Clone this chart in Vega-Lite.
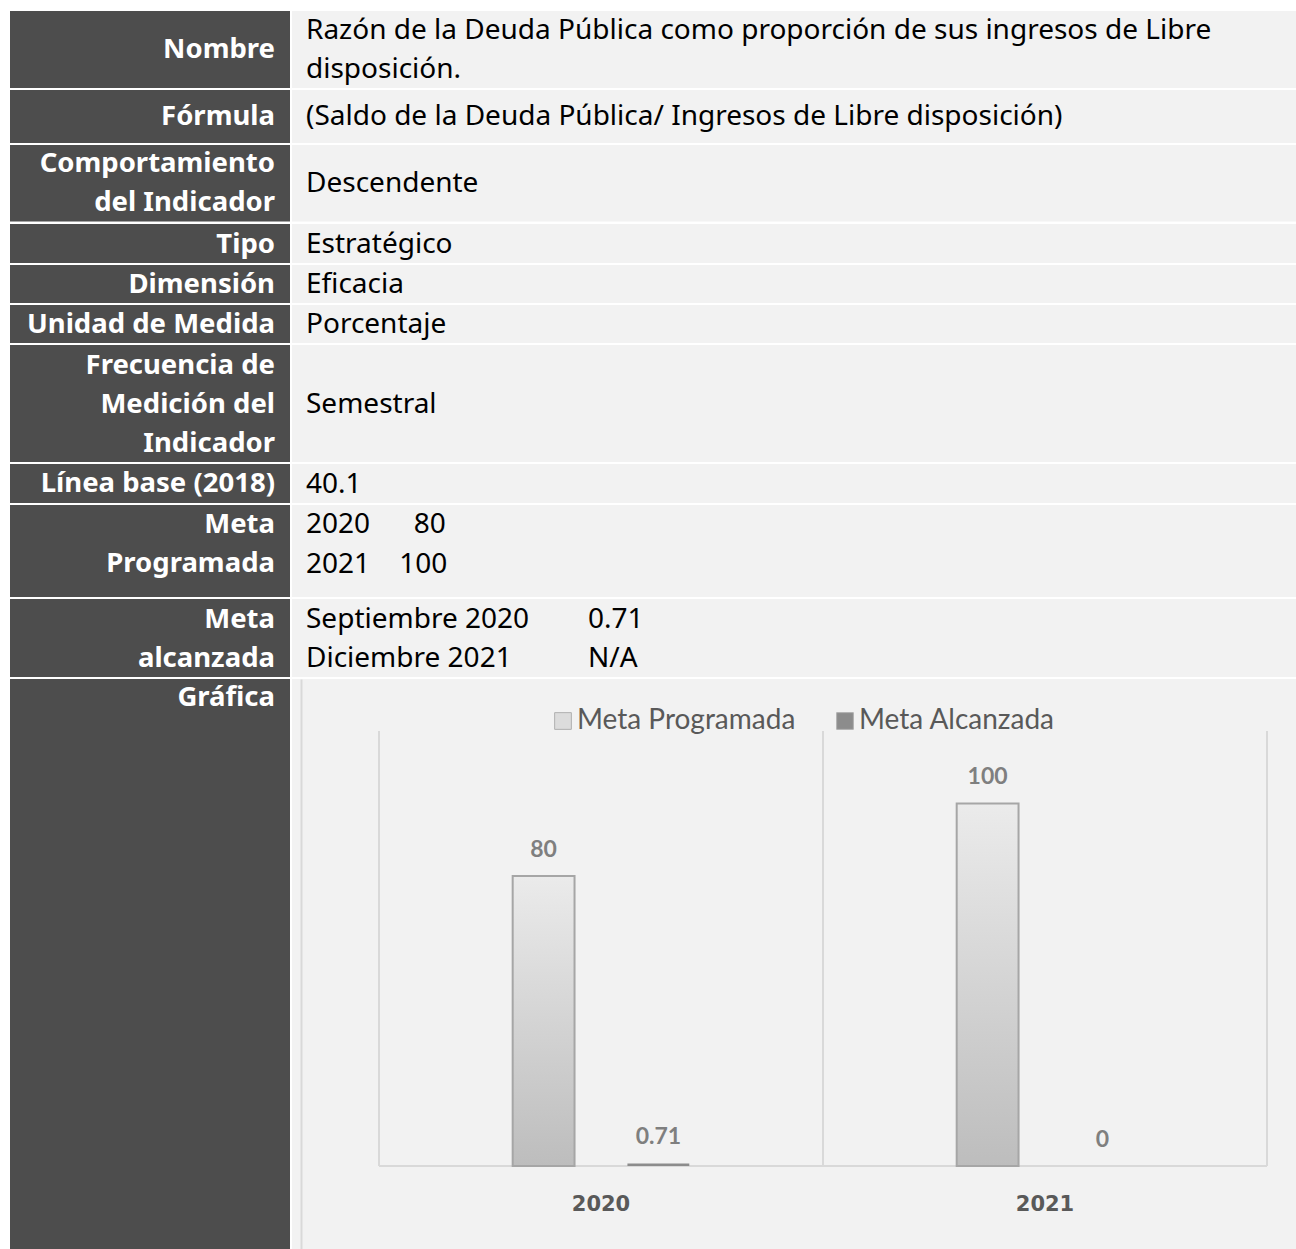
{
  "$schema": "https://vega.github.io/schema/vega-lite/v6.json",
  "background": "white",
  "padding": {"left": 10, "top": 11, "right": 0, "bottom": 0},
  "bounds": "flush",
  "spacing": 2,
  "config": {"view": {"stroke": null}},
  "datasets": {
    "celdas": [
      {"fila": "Nombre", "desde": 0, "hasta": 1.974},
      {"fila": "Fórmula", "desde": 2.026, "hasta": 3.385},
      {"fila": "Comportamiento", "desde": 3.436, "hasta": 5.397},
      {"fila": "Tipo", "desde": 5.462, "hasta": 6.462},
      {"fila": "Dimensión", "desde": 6.513, "hasta": 7.487},
      {"fila": "Unidad", "desde": 7.538, "hasta": 8.513},
      {"fila": "Frecuencia", "desde": 8.564, "hasta": 11.564},
      {"fila": "Línea base", "desde": 11.615, "hasta": 12.615},
      {"fila": "Meta Programada", "desde": 12.667, "hasta": 15.026},
      {"fila": "Meta alcanzada", "desde": 15.077, "hasta": 17.077},
      {"fila": "Gráfica", "desde": 17.128, "hasta": 31.744}
    ],
    "etiquetas": [
      {"texto": "Nombre", "renglon": 1.0},
      {"texto": "Fórmula", "renglon": 2.718},
      {"texto": "Comportamiento", "renglon": 3.923},
      {"texto": "del Indicador", "renglon": 4.923},
      {"texto": "Tipo", "renglon": 6.0},
      {"texto": "Dimensión", "renglon": 7.026},
      {"texto": "Unidad de Medida", "renglon": 8.051},
      {"texto": "Frecuencia de", "renglon": 9.103},
      {"texto": "Medición del", "renglon": 10.103},
      {"texto": "Indicador", "renglon": 11.103},
      {"texto": "Línea base (2018)", "renglon": 12.128},
      {"texto": "Meta", "renglon": 13.18},
      {"texto": "Programada", "renglon": 14.18},
      {"texto": "Meta", "renglon": 15.615},
      {"texto": "alcanzada", "renglon": 16.615},
      {"texto": "Gráfica", "renglon": 17.615}
    ],
    "valores": [
      {"texto": "Razón de la Deuda Pública como proporción de sus ingresos de Libre", "renglon": 0.513, "tab": "a"},
      {"texto": "disposición.", "renglon": 1.513, "tab": "a"},
      {"texto": "(Saldo de la Deuda Pública/ Ingresos de Libre disposición)", "renglon": 2.718, "tab": "a"},
      {"texto": "Descendente", "renglon": 4.436, "tab": "a"},
      {"texto": "Estratégico", "renglon": 6.0, "tab": "a"},
      {"texto": "Eficacia", "renglon": 7.026, "tab": "a"},
      {"texto": "Porcentaje", "renglon": 8.051, "tab": "a"},
      {"texto": "Semestral", "renglon": 10.103, "tab": "a"},
      {"texto": "40.1", "renglon": 12.15, "tab": "a"},
      {"texto": "2020\u00a0\u00a0\u00a0\u00a0\u00a0\u00a080", "renglon": 13.18, "tab": "a"},
      {"texto": "2021\u00a0\u00a0\u00a0\u00a0100", "renglon": 14.205, "tab": "a"},
      {"texto": "Septiembre 2020", "renglon": 15.615, "tab": "a"},
      {"texto": "0.71", "renglon": 15.615, "tab": "b"},
      {"texto": "Diciembre 2021", "renglon": 16.615, "tab": "a"},
      {"texto": "N/A", "renglon": 16.615, "tab": "b"}
    ],
    "grafica": [
      {"anio": "2020", "serie": "Meta Programada", "valor": 80},
      {"anio": "2020", "serie": "Meta Alcanzada", "valor": 0.71},
      {"anio": "2021", "serie": "Meta Programada", "valor": 100},
      {"anio": "2021", "serie": "Meta Alcanzada", "valor": 0}
    ],
    "anios": [{"anio": "2020"}, {"anio": "2021"}],
    "ultimo": [{"anio": "2021"}]
  },
  "hconcat": [
    {
      "width": 280,
      "height": 1238,
      "layer": [
        {
          "data": {"name": "celdas"},
          "mark": {"type": "rect", "fill": "#4d4d4d"},
          "encoding": {
            "y": {"field": "desde", "type": "quantitative", "scale": {"domain": [0, 31.744], "reverse": true, "nice": false, "zero": false}, "axis": null},
            "y2": {"field": "hasta"}
          }
        },
        {
          "data": {"name": "etiquetas"},
          "mark": {"type": "text", "align": "right", "baseline": "middle", "dx": -15, "fill": "white", "font": "Noto Sans", "fontSize": 27.5, "fontWeight": "bold"},
          "encoding": {
            "x": {"value": "width"},
            "y": {"field": "renglon", "type": "quantitative", "scale": {"domain": [0, 31.744], "reverse": true, "nice": false, "zero": false}, "axis": null},
            "text": {"field": "texto"}
          }
        }
      ]
    },
    {
      "bounds": "flush",
      "spacing": 2,
      "vconcat": [
        {
          "width": 1004,
          "height": 666,
          "layer": [
            {
              "data": {"name": "celdas"},
              "transform": [{"filter": "datum.fila !== 'Gráfica'"}],
              "mark": {"type": "rect", "fill": "#f2f2f2"},
              "encoding": {
                "y": {"field": "desde", "type": "quantitative", "scale": {"domain": [0, 17.077], "reverse": true, "nice": false, "zero": false}, "axis": null},
                "y2": {"field": "hasta"}
              }
            },
            {
              "data": {"name": "valores"},
              "mark": {"type": "text", "align": "left", "baseline": "middle", "fill": "#000000", "font": "Noto Sans", "fontSize": 28},
              "encoding": {
                "x": {"field": "tab", "type": "nominal", "scale": {"domain": ["a", "b"], "range": [14, 296], "padding": 0}, "axis": null},
                "y": {"field": "renglon", "type": "quantitative", "scale": {"domain": [0, 17.077], "reverse": true, "nice": false, "zero": false}, "axis": null},
                "text": {"field": "texto"}
              }
            }
          ]
        },
        {
          "width": 1004,
          "height": 570,
          "view": {"fill": "#f2f2f2", "stroke": null},
          "encoding": {
            "x": {
              "field": "anio", "type": "nominal",
              "scale": {"domain": ["2020", "2021"], "paddingInner": 0, "paddingOuter": 0.1306, "align": 0.75},
              "axis": {"orient": "bottom", "offset": -83, "domain": false, "ticks": false, "grid": false, "labelPadding": 27, "labelAngle": 0, "labelFont": "DejaVu Sans", "labelFontSize": 21, "labelFontWeight": "bold", "labelColor": "#595959", "title": null}
            }
          },
          "layer": [
            {
              "data": {"name": "anios"},
              "mark": {"type": "rule", "color": "#d9d9d9", "strokeWidth": 2},
              "encoding": {
                "x": {"field": "anio", "type": "nominal", "bandPosition": 0},
                "y": {
                  "datum": 0, "type": "quantitative",
                  "scale": {"domain": [-22.9, 134.34], "nice": false, "zero": false},
                  "axis": {"orient": "left", "offset": -9, "domainColor": "#d9d9d9", "domainWidth": 2, "ticks": false, "labels": false, "grid": false, "title": null}
                },
                "y2": {"datum": 120}
              }
            },
            {
              "data": {"name": "ultimo"},
              "mark": {"type": "rule", "color": "#d9d9d9", "strokeWidth": 2},
              "encoding": {
                "x": {"field": "anio", "type": "nominal", "bandPosition": 1},
                "y": {"datum": 0, "type": "quantitative"},
                "y2": {"datum": 120}
              }
            },
            {
              "data": {"name": "anios"},
              "mark": {"type": "rect", "color": "#d9d9d9"},
              "encoding": {
                "y": {"datum": 0.28, "type": "quantitative"},
                "y2": {"datum": -0.28}
              }
            },
            {
              "data": {"name": "grafica"},
              "mark": {"type": "bar", "strokeWidth": 2},
              "encoding": {
                "xOffset": {"field": "serie", "type": "nominal", "scale": {"domain": ["_izq", "Meta Programada", "Meta Alcanzada", "_der"], "paddingInner": 0.461, "paddingOuter": 0.165}},
                "y": {"field": "valor", "type": "quantitative"},
                "y2": {"datum": 0},
                "fill": {
                  "field": "serie", "type": "nominal",
                  "scale": {"domain": ["Meta Programada", "Meta Alcanzada"], "range": ["#dcdcdc", "#8c8c8c"]},
                  "condition": {"test": "datum.serie === 'Meta Programada'", "value": {"gradient": "linear", "x1": 0, "y1": 0, "x2": 0, "y2": 1, "stops": [{"offset": 0, "color": "#ebebeb"}, {"offset": 1, "color": "#bdbdbd"}]}},
                  "legend": {"orient": "none", "legendX": 539, "legendY": 696, "direction": "horizontal", "title": null, "padding": 0, "symbolType": "square", "symbolSize": 280, "symbolStrokeColor": "#b0b0b0", "symbolStrokeWidth": 1, "labelFont": "Lato", "labelFontSize": 28, "labelColor": "#595959", "labelOffset": 0, "labelLimit": 400, "columnPadding": 35}
                },
                "stroke": {"condition": {"test": "datum.serie === 'Meta Programada'", "value": "#a6a6a6"}, "value": null}
              }
            },
            {
              "data": {"name": "grafica"},
              "mark": {"type": "text", "baseline": "middle", "dy": -26, "fill": "#7f7f7f", "font": "Lato", "fontSize": 23, "fontWeight": "bold"},
              "encoding": {
                "xOffset": {"field": "serie", "type": "nominal", "scale": {"domain": ["_izq", "Meta Programada", "Meta Alcanzada", "_der"], "paddingInner": 0.461, "paddingOuter": 0.165}},
                "y": {"field": "valor", "type": "quantitative"},
                "text": {"field": "valor", "type": "quantitative", "format": "~g"}
              }
            }
          ]
        }
      ]
    }
  ]
}
